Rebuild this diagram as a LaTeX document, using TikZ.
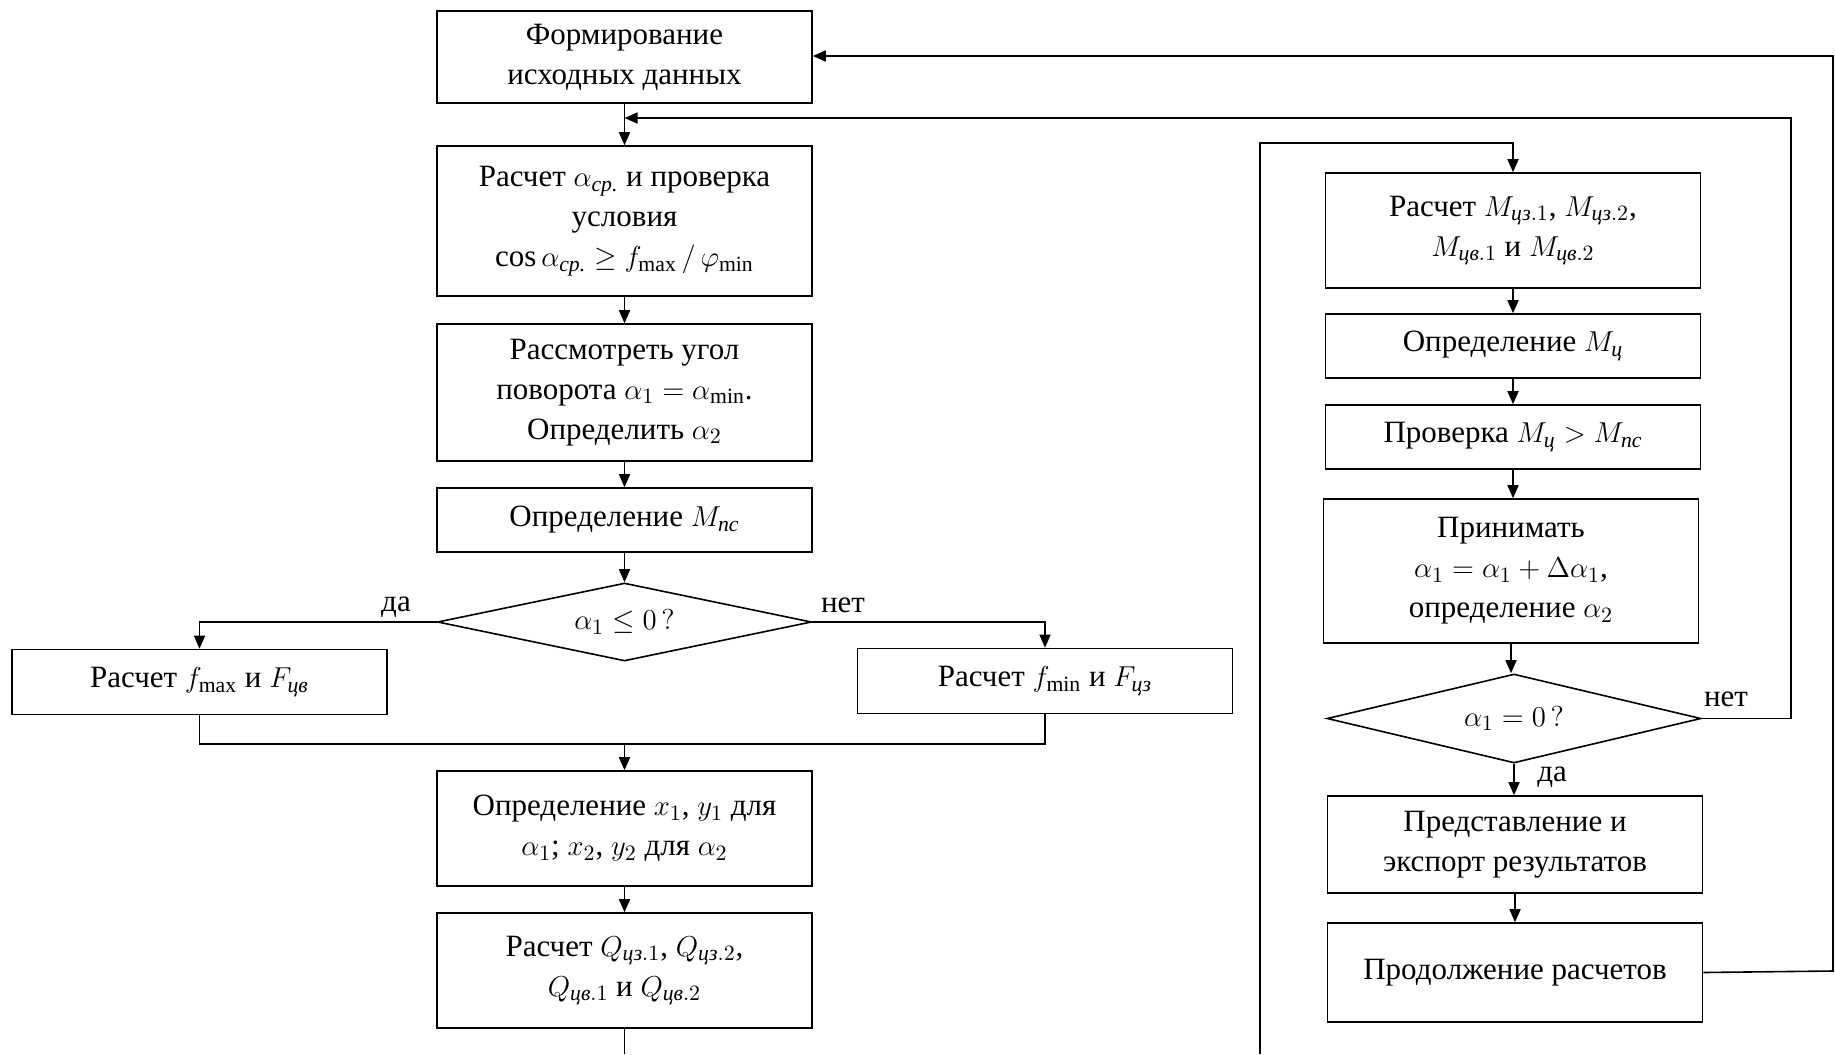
\documentclass[tikz,border=0pt]{standalone}
\usepackage{amsmath}
\usepackage{fontspec}
\setmainfont{Liberation Serif}
\usetikzlibrary{shapes.geometric,arrows.meta,calc}
\newcommand{\cs}[1]{\text{\itshape #1}}
\begin{document}
\begin{tikzpicture}[x=0.5pt,y=-0.5pt,
  every node/.style={font=\fontsize{15.5}{20}\selectfont},
  box/.style={draw,line width=0.8pt,minimum width=187.5pt,align=center,inner sep=2pt},
  dia/.style={draw,line width=0.8pt,diamond,shape aspect=6,inner sep=0pt,minimum width=187pt},
  lab/.style={inner sep=0pt},
  ln/.style={line width=0.8pt},
  arr/.style={line width=0.8pt,-{Triangle[length=6.5pt,width=5.5pt]}}]
\useasboundingbox (0,0) rectangle (1835,1054);
% main column
\node[box,minimum height=46pt] (b1) at (624.5,57) {Формирование\\исходных данных};
\node[box,minimum height=75pt] (b2) at (624.5,221) {Расчет $\alpha_{\cs{ср.}}$ и проверка\\условия\\$\cos\alpha_{\cs{ср.}} \geq f_{\max}\,/\,\varphi_{\min}$};
\node[box,minimum height=68.5pt] (b3) at (624.5,392.5) {Рассмотреть угол\\поворота $\alpha_1 = \alpha_{\min}$.\\Определить $\alpha_2$};
\node[box,minimum height=32pt] (b4) at (624.5,520) {Определение $M_{\cs{пс}}$};
\node[dia,minimum height=39pt] (d1) at (624.5,622) {$\alpha_1 \leq 0\,?$};
\node[box,minimum height=32.5pt] (bl) at (199.5,682) {Расчет $f_{\max}$ и $F_{\cs{цв}}$};
\node[box,minimum height=32.5pt] (br) at (1045,681) {Расчет $f_{\min}$ и $F_{\cs{цз}}$};
\node[box,minimum height=57.5pt] (b5) at (624.5,828.5) {Определение $x_1$, $y_1$ для\\$\alpha_1$; $x_2$, $y_2$ для $\alpha_2$};
\node[box,minimum height=57.5pt] (b6) at (624.5,970.5) {Расчет $Q_{\cs{цз}.1}$, $Q_{\cs{цз}.2}$,\\$Q_{\cs{цв}.1}$ и $Q_{\cs{цв}.2}$};
% right column
\node[box,minimum height=57.5pt] (r1) at (1513,230.5) {Расчет $M_{\cs{цз}.1}$, $M_{\cs{цз}.2}$,\\$M_{\cs{цв}.1}$ и $M_{\cs{цв}.2}$};
\node[box,minimum height=32pt] (r2) at (1513,346) {Определение $M_{\cs{ц}}$};
\node[box,minimum height=32pt] (r3) at (1513,437) {Проверка $M_{\cs{ц}} > M_{\cs{пс}}$};
\node[box,minimum height=72pt] (r4) at (1511,571) {Принимать\\$\alpha_1 = \alpha_1 + \Delta\alpha_1$,\\определение $\alpha_2$};
\node[dia,minimum height=44.5pt] (d2) at (1514,718.5) {$\alpha_1 = 0\,?$};
\node[box,minimum height=48.5pt] (r5) at (1515,844.5) {Представление и\\экспорт результатов};
\node[box,minimum height=49.5pt] (r6) at (1515,972.5) {Продолжение расчетов};
% labels
\node[lab] (l1) at (396,607) {да};
\node[lab] (l2) at (843,605) {нет};
\node[lab] (l3) at (1726,699) {нет};
\node[lab] (l4) at (1552,777) {да};
% helper coordinates
\coordinate (m) at (624.5,744);
\coordinate (j) at (624.5,118);
\coordinate (c1) at (1833,971);
\coordinate (c2) at (1833,56);
\coordinate (c3) at (1791,718.5);
\coordinate (c4) at (1791,118);
\coordinate (ls) at (1260,1054);
\coordinate (lc) at (1513,143);
\coordinate (bend) at (624.5,1054);
% connectors main
\draw[arr] (b1) -- (b2);
\draw[arr] (b2) -- (b3);
\draw[arr] (b3) -- (b4);
\draw[arr] (b4) -- (d1);
\draw[arr] (d1.west) -| (bl.north);
\draw[arr] (d1.east) -| (br.north);
\draw[ln] (bl.south) |- (m) -| (br.south);
\draw[arr] (m) -- (b5);
\draw[arr] (b5) -- (b6);
\draw[ln] (b6.south) -- (bend);
% connectors right
\draw[arr] (ls) |- (lc) -- (r1.north);
\draw[arr] (r1) -- (r2);
\draw[arr] (r2) -- (r3);
\draw[arr] (r3.south) -- (r3.south |- r4.north);
\draw[arr] (r4.south) -- (r4.south |- d2.north);
\draw[arr] (d2.south) -- (d2.south |- r5.north);
\draw[arr] (r5) -- (r6);
% loops
\draw[arr] (r6.east) -- (c1) -- (c2) -- (b1.east |- c2);
\draw[arr] (d2.east) -- (c3) -- (c4) -- (j);
\end{tikzpicture}
\end{document}
